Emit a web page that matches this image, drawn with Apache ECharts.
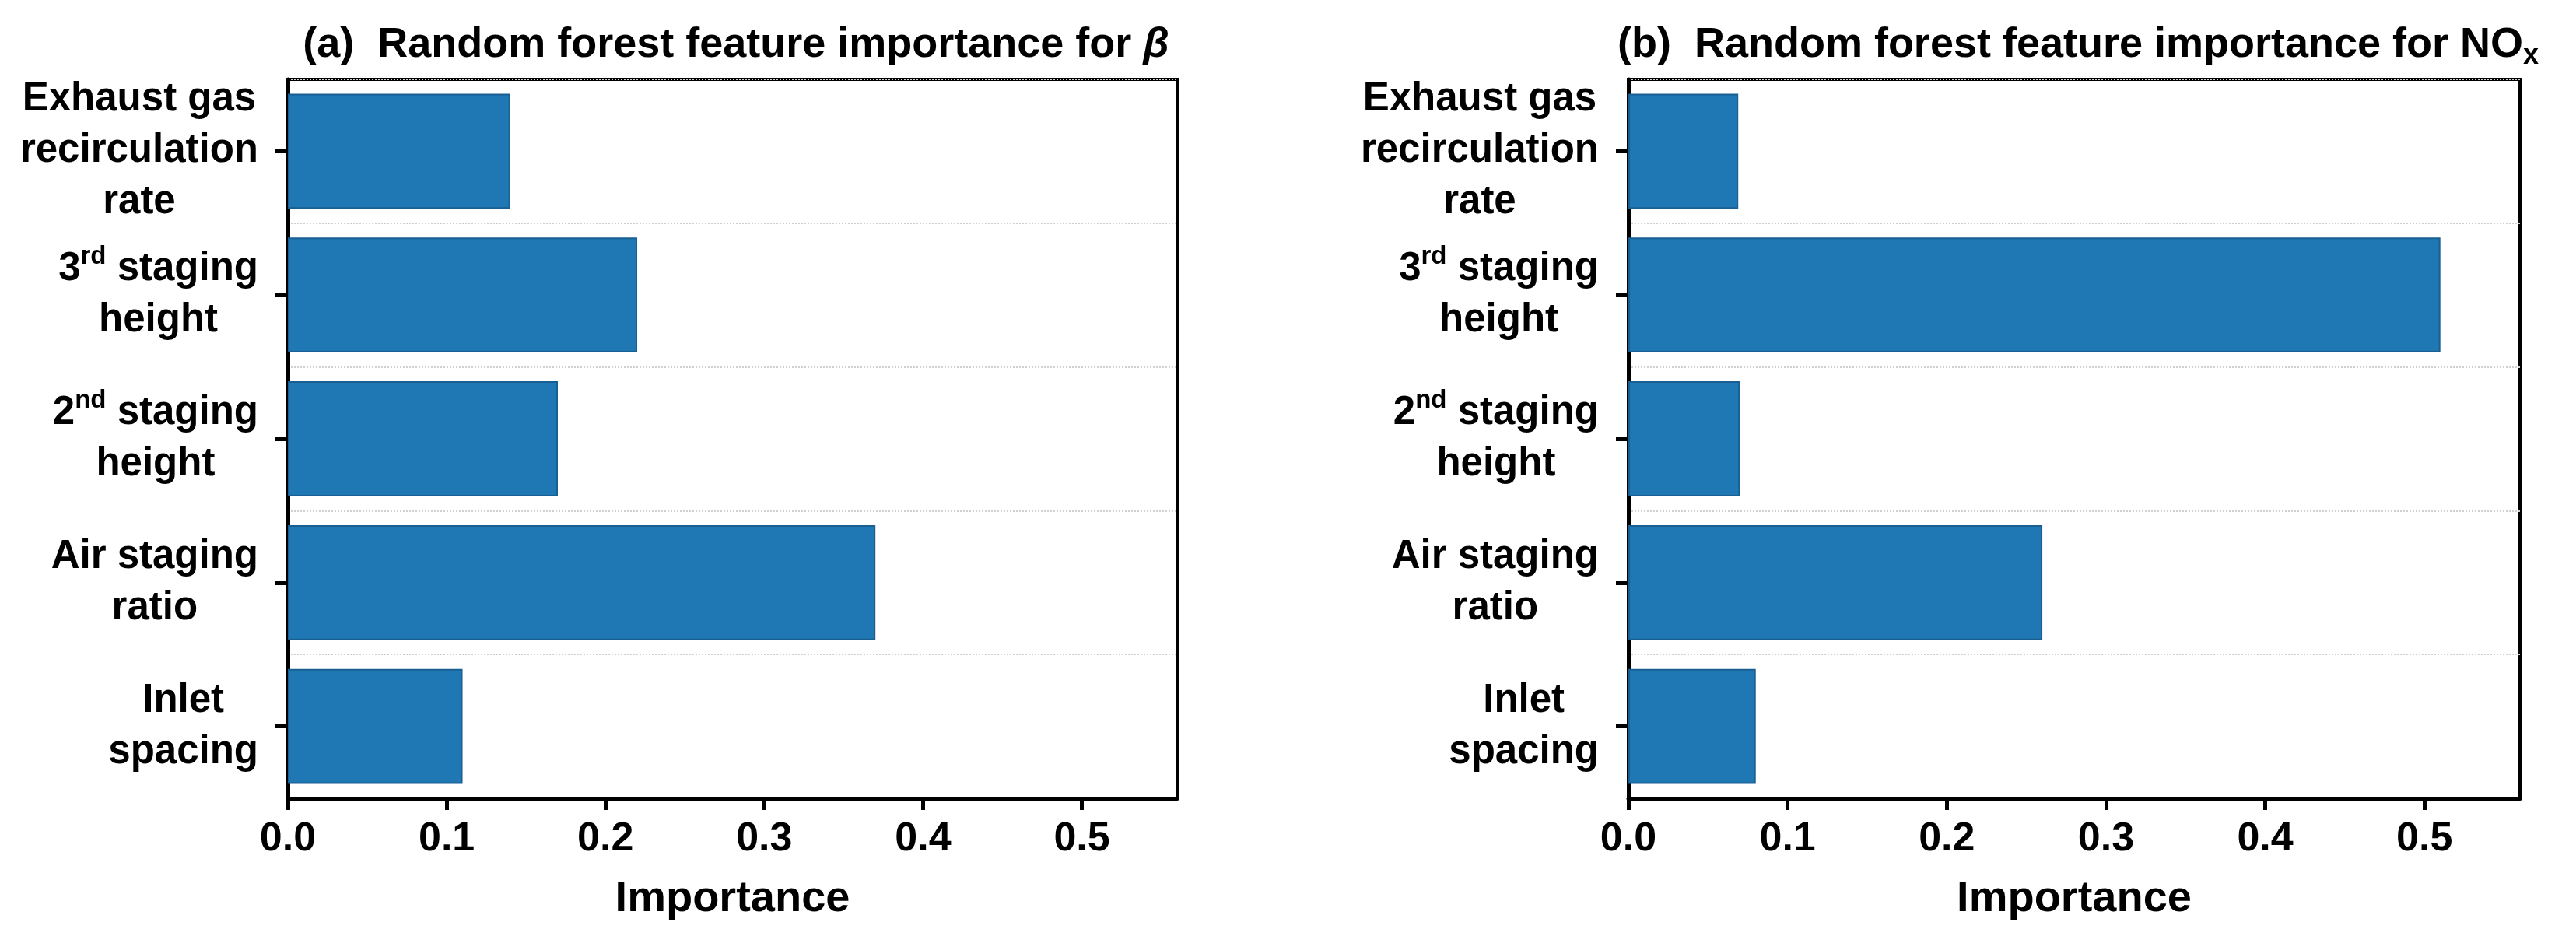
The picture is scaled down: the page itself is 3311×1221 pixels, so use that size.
<!DOCTYPE html>
<html>
<head>
<meta charset="utf-8">
<script src="https://cdn.jsdelivr.net/npm/echarts@6/dist/echarts.min.js"></script>
<style>
html,body{margin:0;padding:0;background:#fff;}
#chart{width:3311px;height:1221px;}
</style>
</head>
<body>
<div id="chart"></div>
<script>
// ---- data ----
const categories = [
  'Exhaust gas\nrecirculation\nrate',
  '3rd staging\nheight',
  '2nd staging\nheight',
  'Air staging\nratio',
  'Inlet\nspacing'
];
const betaImportance = [0.140, 0.220, 0.170, 0.370, 0.110];
const noxImportance  = [0.069, 0.510, 0.070, 0.260, 0.080];
const xTicks = [0, 0.1, 0.2, 0.3, 0.4, 0.5];
const xMax = 0.56;
const titleA = '(a)  Random forest feature importance for ';
const titleASymbol = 'β';
const titleB = '(b)  Random forest feature importance for NO';
const titleBSub = 'x';
const xName = 'Importance';

// ---- styling ----
const FONT = "'Liberation Sans', Arial, sans-serif";
const chart = echarts.init(document.getElementById('chart'), null, {renderer: 'canvas'});

function catFormatter(v) {
  return v.split('\n').map(function (line) {
    const m = line.match(/^(\d)(st|nd|rd|th)(.*)$/);
    if (m) return '{n|' + m[1] + '}{sup|' + m[2] + '}{n|' + m[3] + '}';
    return '{n|' + line + '}';
  }).join('\n');
}

const labelRich = {
  n: {fontFamily: FONT, fontWeight: 'bold', fontSize: 51, lineHeight: 66, color: '#000', align: 'center'},
  sup: {fontFamily: FONT, fontWeight: 'bold', fontSize: 33, lineHeight: 36, verticalAlign: 'top', color: '#000', align: 'center'}
};

const grids = [
  {left: 370, right: 1798, top: 102, bottom: 195},
  {left: 2093, right: 72, top: 102, bottom: 195}
];

function makeX(idx) {
  return {
    gridIndex: idx, type: 'value', min: 0, max: xMax,
    name: xName, nameLocation: 'middle', nameGap: 102,
    nameTextStyle: {fontFamily: FONT, fontWeight: 'bold', fontSize: 56, color: '#000'},
    axisLine: {show: true, lineStyle: {color: '#000', width: 5}},
    axisTick: {show: true, length: 15, lineStyle: {color: '#000', width: 5}, customValues: xTicks},
    axisLabel: {fontFamily: FONT, fontWeight: 'bold', fontSize: 52, color: '#000', margin: 27,
      customValues: xTicks, formatter: function (v) { return v.toFixed(1); }},
    splitLine: {show: false}
  };
}
function makeY(idx) {
  return {
    gridIndex: idx, type: 'category', data: categories, inverse: true,
    axisLine: {show: true, lineStyle: {color: '#000', width: 5}},
    axisTick: {show: true, alignWithLabel: true, length: 16, lineStyle: {color: '#000', width: 5}},
    axisLabel: {margin: 38, formatter: catFormatter, rich: labelRich},
    splitLine: {show: true, lineStyle: {type: 'dotted', color: '#cfcfcf', width: 2}}
  };
}

const titleStyle = {fontFamily: FONT, fontWeight: 'bold', fontSize: 54, lineHeight: 64, color: '#000'};

const option = {
  backgroundColor: '#fff',
  animation: false,
  title: [
    {text: '{t|' + titleA + '}{g|' + titleASymbol + '}', left: 941, top: 21, textAlign: 'center',
     textStyle: {rich: {
       t: titleStyle,
       g: Object.assign({}, titleStyle, {fontStyle: 'italic'})
     }}},
    {text: '{t|' + titleB + '}{s|' + titleBSub + '}', left: 2666, top: 21, textAlign: 'center',
     textStyle: {rich: {
       t: titleStyle,
       s: {fontFamily: FONT, fontWeight: 'bold', fontSize: 36, lineHeight: 20, verticalAlign: 'bottom', color: '#000'}
     }}}
  ],
  grid: grids.map(function (g) {
    return Object.assign({show: true, borderColor: '#000', borderWidth: 4, backgroundColor: 'transparent'}, g);
  }),
  xAxis: [makeX(0), makeX(1)],
  yAxis: [makeY(0), makeY(1)],
  series: [
    {type: 'bar', xAxisIndex: 0, yAxisIndex: 0, data: betaImportance, barWidth: '80%',
     itemStyle: {color: '#1f77b4', borderColor: '#1a5f91', borderWidth: 2}},
    {type: 'bar', xAxisIndex: 1, yAxisIndex: 1, data: noxImportance, barWidth: '80%',
     itemStyle: {color: '#1f77b4', borderColor: '#1a5f91', borderWidth: 2}}
  ]
};
chart.setOption(option);
</script>
</body>
</html>
